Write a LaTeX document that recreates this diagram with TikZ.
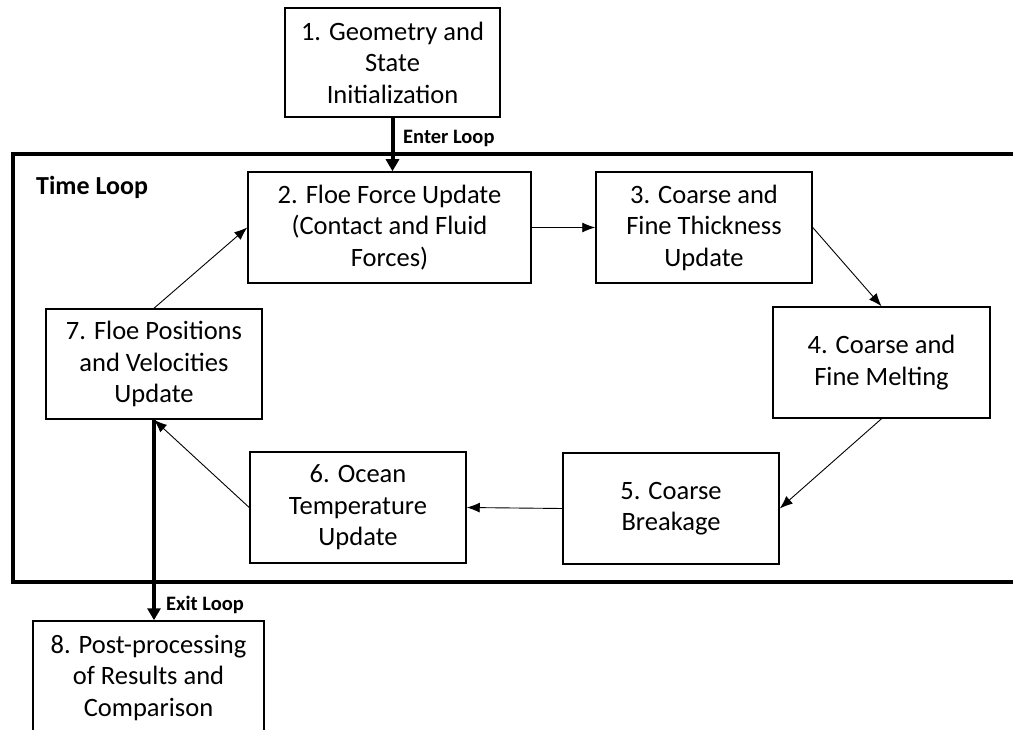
\documentclass[tikz,border=0pt]{standalone}
\usepackage{fontspec}
\setmainfont{Carlito}
\usetikzlibrary{arrows.meta}
\begin{document}
\begin{tikzpicture}[x=1pt,y=-1pt,
  stepbox/.style={draw,line width=1.5pt,align=center,inner sep=0pt,
    font=\fontsize{26.5}{31.5}\selectfont},
  thinarrow/.style={line width=0.9pt,-{Latex[length=13pt,width=10pt]}},
  thickarrow/.style={line width=4pt,-{Triangle[length=12pt,width=13pt]}},
  looplabel/.style={font=\bfseries\fontsize{20.5}{24}\selectfont,inner sep=0pt}]
\clip (0,0) rectangle (1013,730);
\fill[white] (0,0) rectangle (1013,730);
% loop frame
\draw[line width=4pt] (13,154) rectangle (1030,582);
\node[font=\bfseries\fontsize{26}{30}\selectfont,anchor=west,inner sep=0pt] (tl) at (36,187) {Time Loop};
% boxes
\node[stepbox,minimum width=215pt,minimum height=109pt] (b1) at (392.5,62.5) {1. Geometry and\\State\\Initialization};
\node[stepbox,minimum width=283pt,minimum height=111pt] (b2) at (389.5,227.5) {2. Floe Force Update\\(Contact and Fluid\\Forces)};
\node[stepbox,minimum width=216pt,minimum height=111pt] (b3) at (704,227.5) {3. Coarse and\\Fine Thickness\\Update};
\node[stepbox,minimum width=217pt,minimum height=111pt] (b4) at (881.5,362.5) {4. Coarse and\\Fine Melting};
\node[stepbox,minimum width=216pt,minimum height=111pt] (b5) at (671,508.5) {5. Coarse\\Breakage};
\node[stepbox,minimum width=216pt,minimum height=111pt] (b6) at (358,507.5) {6. Ocean\\Temperature\\Update};
\node[stepbox,minimum width=216pt,minimum height=110pt] (b7) at (154,364) {7. Floe Positions\\and Velocities\\Update};
\node[stepbox,minimum width=231pt,minimum height=114pt] (b8) at (148.5,678) {8. Post-processing\\of Results and\\Comparison};
% loop connectors
\draw[thinarrow] (b2.east) -- (b3.west);
\draw[thinarrow] (b3.east) -- (b4.north);
\draw[thinarrow] (b4.south) -- (b5.east);
\draw[thinarrow] (b5.west) -- (b6.east);
\draw[thinarrow] (b6.west) -- (b7.south);
\draw[thinarrow] (b7.north) -- (b2.west);
% enter / exit
\draw[thickarrow] (b1.south) -- (b1.south |- b2.north);
\node[looplabel,anchor=west] (enter) at (403,138) {Enter Loop};
\draw[thickarrow] (b7.south) -- (b7.south |- b8.north);
\node[looplabel,anchor=west] (exit) at (166,605) {Exit Loop};
\end{tikzpicture}
\end{document}
